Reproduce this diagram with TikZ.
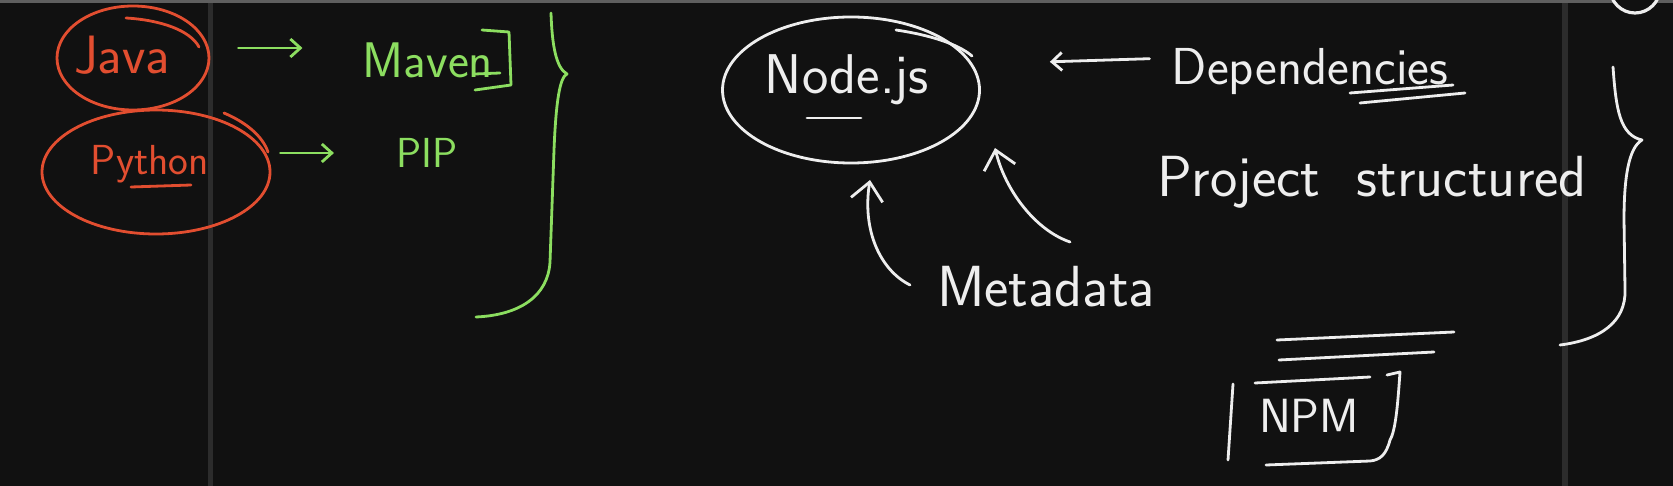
\documentclass[tikz,border=0pt]{standalone}
\usetikzlibrary{arrows.meta,shapes.geometric}
\definecolor{board}{RGB}{17,17,17}
\definecolor{seam}{RGB}{44,44,44}
\definecolor{rim}{RGB}{95,95,95}
\definecolor{redink}{RGB}{226,78,48}
\definecolor{greenink}{RGB}{140,222,96}
\definecolor{whiteink}{RGB}{238,238,238}
\begin{document}
\begin{tikzpicture}[
  x=0.5pt, y=-0.5pt,
  ink/.style={line width=1.4pt, line cap=round, line join=round},
  red/.style={ink, redink},
  grn/.style={ink, greenink},
  wht/.style={ink, whiteink},
  ring/.style={ellipse, draw, inner sep=0pt},
  hand/.style={font=\sffamily\fontsize{#1}{#1}\selectfont, inner sep=0pt},
  barb/.style={-{Straight Barb[length=5pt,width=9pt]}},
  bigbarb/.style={-{Straight Barb[length=9pt,width=16pt]}}]

% ========================== board and seams ============================
\useasboundingbox (0,0) rectangle (1673,486);
\fill[board] (0,0) rectangle (1673,486);
\fill[seam] (208,0) rectangle (213,486);
\fill[seam] (1562,0) rectangle (1568,486);
\fill[rim] (0,0) rectangle (1673,3);
\draw[line width=1.6pt, whiteink, fill=board] (1635,-12) circle (25);

% ===================== left: languages and tools =======================
\node[ring, red, minimum width=76pt, minimum height=52pt] (java) at (133,58) {};
\node[ring, red, minimum width=114pt, minimum height=62pt] (python) at (156,172) {};
\draw[red] (126,18) .. controls (160,20) and (190,30) .. (199,47);
\draw[red] (224,113) .. controls (245,122) and (262,135) .. (268,152);
\node[hand=27, redink] (javatxt) at (122,55) {Java};
\node[hand=21, redink] (pytxt) at (150,164) {Python};
\draw[red] (131,187) -- (191,185);

\node[hand=25, greenink] (maven) at (428,60) {Maven};
\node[hand=21, greenink] (pip) at (427,153) {PIP};
\draw[grn] (475,74) -- (500,73);
\draw[grn] (482,30) -- (509,32) -- (511,85) -- (475,90);

\draw[grn, barb, shorten <=14pt, shorten >=30pt]
  ([yshift=5pt]java.east) -- ([yshift=6pt]maven.west);
\draw[grn, barb, shorten <=4.5pt, shorten >=31pt]
  ([yshift=9.5pt]python.east) -- (pip.west);

% the green brace
\draw[grn] (551,13) .. controls (552,45) and (556,68) .. (567,74)
  .. controls (560,77) and (556,100) .. (554,150) -- (550,262)
  .. controls (548,296) and (520,315) .. (476,317);

% ======================= right: node.js and npm ========================
\node[ring, wht, minimum width=128.5pt, minimum height=73pt] (nodejs) at (851,90) {};
\draw[wht] (896,30) .. controls (930,35) and (958,44) .. (972,56);
\node[hand=28, whiteink] (nodetxt) at (847,80) {Node.js};
\draw[wht] (807,118) -- (861,118);

\node[hand=26, whiteink] (deps) at (1310,72) {Dependencies};
\draw[wht] (1350,93) -- (1453,85);
\draw[wht] (1360,103) -- (1465,93);
\draw[wht, barb, shorten <=11pt, shorten >=34.5pt]
  ([yshift=7pt]deps.west) -- ([yshift=13pt]nodejs.east);

\node[hand=29, whiteink] (proj) at (1372,182) {Project\ \ structured};
\node[hand=29, whiteink] (meta) at (1046,287) {Metadata};

\draw[wht, bigbarb] ([shift={(-136,-2)}]meta.center)
  .. controls (880,270) and (862,230) .. ([shift={(19,90)}]nodejs.center);
\draw[wht, bigbarb] ([shift={(24,-45)}]meta.center)
  .. controls (1035,230) and (1005,190) .. ([shift={(144,58)}]nodejs.center);

% the white brace
\draw[wht] (1613,67) .. controls (1616,110) and (1620,135) .. (1642,140)
  .. controls (1628,148) and (1624,180) .. (1624,220) -- (1625,290)
  .. controls (1626,322) and (1600,340) .. (1560,345);

% npm, boxed under two strokes
\draw[wht] (1277,340) -- (1454,332);
\draw[wht] (1279,360) -- (1434,352);
\node[hand=24, whiteink] (npm) at (1309,416) {NPM};
\draw[wht] (1233,384) -- (1228,460);
\draw[wht] (1255,383) -- (1370,377);
\draw[wht] (1387,375) -- (1400,372) .. controls (1398,400) and (1396,430) .. (1390,440)
  .. controls (1386,455) and (1380,460) .. (1370,461) -- (1266,465);

\end{tikzpicture}
\end{document}
